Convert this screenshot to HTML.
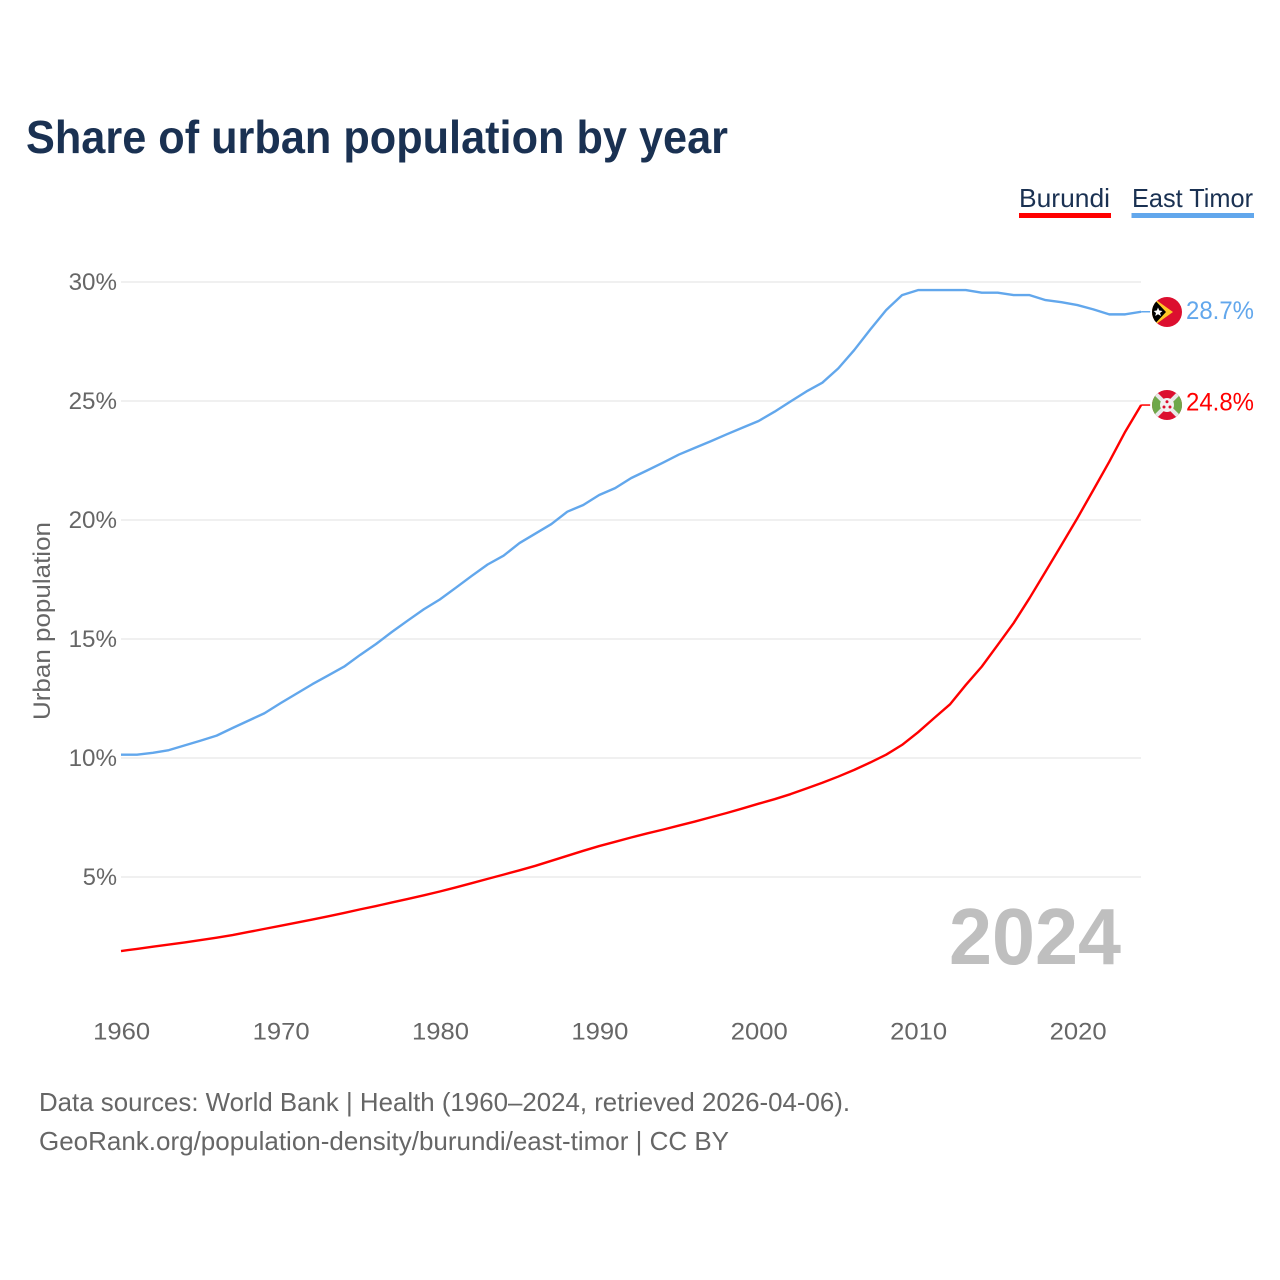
<!DOCTYPE html>
<html lang="en">
<head>
<meta charset="utf-8">
<title>Share of urban population by year</title>
<style>
  html, body { margin: 0; padding: 0; background: #fff; }
  svg { display: block; font-family: "Liberation Sans", sans-serif; }
</style>
</head>
<body>
<svg id="chart" width="1280" height="1280" viewBox="0 0 1280 1280" xmlns="http://www.w3.org/2000/svg">
  <rect width="1280" height="1280" fill="#ffffff"/>
  <text x="26" y="153" font-size="46" font-weight="700" fill="#1a3152" textLength="702" lengthAdjust="spacingAndGlyphs">Share of urban population by year</text>

  <g>
    <g>
      <text x="1019" y="207" font-size="26" fill="#1a3152" textLength="91" lengthAdjust="spacingAndGlyphs">Burundi</text>
      <rect x="1019" y="213" width="92" height="5" fill="#ff0000"/>
    </g>
    <g>
      <text x="1132" y="207" font-size="26" fill="#1a3152" textLength="121" lengthAdjust="spacingAndGlyphs">East Timor</text>
      <rect x="1131.500" y="213" width="122.500" height="5" fill="#62a7ec"/>
    </g>
  </g>

  <g id="grid"></g>
  <g id="y-ticks"></g>
  <g id="x-ticks"></g>
  <text transform="translate(50 720) rotate(-90)" font-size="24" fill="#666666" textLength="198" lengthAdjust="spacingAndGlyphs">Urban population</text>

  <text x="949" y="964" font-size="80" font-weight="700" fill="#bfbfbf" textLength="172" lengthAdjust="spacingAndGlyphs">2024</text>

  <g id="series"></g>

  <defs>
    <clipPath id="clip-tl"><circle cx="1167" cy="312" r="15"/></clipPath>
    <clipPath id="clip-bi"><circle cx="1167" cy="405" r="15"/></clipPath>
  </defs>

  <g id="flag-east-timor" clip-path="url(#clip-tl)">
    <rect x="1152" y="297" width="30" height="30" fill="#dc0f2f"/>
    <polygon points="1152,297 1173,312 1152,327" fill="#ffc726"/>
    <polygon points="1152,297 1166,312 1152,327" fill="#000000"/>
    <polygon points="1158,307.500 1159.300,310.500 1162.500,311 1160,313 1161,316 1158,314.300 1155.200,316 1156,313 1153.700,311 1156.800,310.500" fill="#ffffff"/>
  </g>

  <g id="flag-burundi" clip-path="url(#clip-bi)">
    <rect x="1152" y="390" width="30" height="30" fill="#dc0f2f"/>
    <polygon points="1152,390 1167,405 1152,420" fill="#6fa84a"/>
    <polygon points="1182,390 1167,405 1182,420" fill="#6fa84a"/>
    <line x1="1152" y1="390" x2="1182" y2="420" stroke="#e8e8e8" stroke-width="4"/>
    <line x1="1182" y1="390" x2="1152" y2="420" stroke="#e8e8e8" stroke-width="4"/>
    <circle cx="1167" cy="405" r="7" fill="#f2f2f2"/>
    <circle cx="1167" cy="401.800" r="1.500" fill="#dc0f2f"/>
    <circle cx="1164" cy="407" r="1.500" fill="#dc0f2f"/>
    <circle cx="1170" cy="407" r="1.500" fill="#dc0f2f"/>
  </g>

  <text id="value-east-timor" x="1186" y="319" font-size="25" fill="#62a7ec" textLength="68" lengthAdjust="spacingAndGlyphs"></text>
  <text id="value-burundi" x="1186" y="410.500" font-size="25" fill="#ff0000" textLength="68" lengthAdjust="spacingAndGlyphs"></text>

  <text x="39" y="1111" font-size="26" fill="#666666" textLength="811" lengthAdjust="spacingAndGlyphs">Data sources: World Bank | Health (1960–2024, retrieved 2026-04-06).</text>
  <text x="39" y="1150" font-size="26" fill="#666666" textLength="690" lengthAdjust="spacingAndGlyphs">GeoRank.org/population-density/burundi/east-timor | CC BY</text>
</svg>
<script>
const startYear = 1960;
const xTickYears = [1960, 1970, 1980, 1990, 2000, 2010, 2020];
const yTickValues = [5, 10, 15, 20, 25, 30];
const burundiValues = [
  1.89, 1.98, 2.07, 2.16, 2.25, 2.35, 2.45, 2.56, 2.69, 2.82,
  2.95, 3.08, 3.21, 3.35, 3.49, 3.64, 3.78, 3.93, 4.08, 4.23,
  4.39, 4.56, 4.74, 4.92, 5.10, 5.28, 5.47, 5.68, 5.89, 6.10,
  6.30, 6.48, 6.66, 6.83, 6.99, 7.16, 7.33, 7.51, 7.69, 7.88,
  8.08, 8.27, 8.48, 8.72, 8.96, 9.22, 9.50, 9.81, 10.14, 10.55,
  11.08, 11.67, 12.25, 13.07, 13.84, 14.75, 15.67, 16.72, 17.83, 18.95,
  20.08, 21.26, 22.45, 23.71, 24.83
];
const eastTimorValues = [
  10.14, 10.14, 10.22, 10.33, 10.53, 10.73, 10.94, 11.26, 11.57, 11.88,
  12.30, 12.70, 13.10, 13.47, 13.84, 14.33, 14.79, 15.30, 15.78, 16.25,
  16.66, 17.15, 17.65, 18.13, 18.50, 19.03, 19.43, 19.83, 20.35, 20.63,
  21.05, 21.34, 21.76, 22.08, 22.41, 22.75, 23.03, 23.31, 23.60, 23.88,
  24.16, 24.55, 24.98, 25.40, 25.77, 26.37, 27.14, 28.00, 28.82, 29.45,
  29.66, 29.66, 29.66, 29.66, 29.55, 29.55, 29.45, 29.45, 29.24, 29.15,
  29.03, 28.85, 28.64, 28.64, 28.75
];
const burundiEndLabel = '24.8%';
const eastTimorEndLabel = '28.7%';

const SVG_NS = 'http://www.w3.org/2000/svg';
const xScale = function (year) { return 121 + (year - 1960) * 15.94; };
const yScale = function (value) { return 996 - value * 23.8; };
const plotRight = 1141;

const gridLayer = document.getElementById('grid');
const yTickLayer = document.getElementById('y-ticks');
const xTickLayer = document.getElementById('x-ticks');
const seriesLayer = document.getElementById('series');

yTickValues.forEach(function (tick) {
  const line = document.createElementNS(SVG_NS, 'line');
  
  
  line.setAttribute('x1', 121);
  line.setAttribute('x2', plotRight);
  line.setAttribute('y1', yScale(tick));
  line.setAttribute('y2', yScale(tick));
  line.setAttribute('stroke', '#ebebeb');
  line.setAttribute('stroke-width', '1.5');
  gridLayer.appendChild(line);

  const label = document.createElementNS(SVG_NS, 'text');
  const labelText = tick + '%';
  
  
  label.setAttribute('x', 117);
  label.setAttribute('y', yScale(tick) + 8);
  label.setAttribute('text-anchor', 'end');
  label.setAttribute('font-size', '24');
  label.setAttribute('fill', '#666666');
  label.setAttribute('textLength', (labelText.length - 1) * 14.2 + 20);
  label.setAttribute('lengthAdjust', 'spacingAndGlyphs');
  label.textContent = labelText;
  yTickLayer.appendChild(label);
});

xTickYears.forEach(function (year) {
  const label = document.createElementNS(SVG_NS, 'text');
  
  
  label.setAttribute('x', xScale(year) + 0.7);
  label.setAttribute('y', 1039.5);
  label.setAttribute('text-anchor', 'middle');
  label.setAttribute('font-size', '24');
  label.setAttribute('fill', '#666666');
  label.setAttribute('textLength', '57');
  label.setAttribute('lengthAdjust', 'spacingAndGlyphs');
  label.textContent = String(year);
  xTickLayer.appendChild(label);
});

function drawSeries(values, color, width, seriesName) {
  const d = values.map(function (value, i) {
    return (i === 0 ? 'M' : 'L') + xScale(startYear + i).toFixed(2) + ' ' + yScale(value).toFixed(2);
  }).join(' ');
  const path = document.createElementNS(SVG_NS, 'path');
  
  
  path.setAttribute('d', d);
  path.setAttribute('fill', 'none');
  path.setAttribute('stroke', color);
  path.setAttribute('stroke-width', width);
  path.setAttribute('stroke-linejoin', 'round');
  seriesLayer.appendChild(path);

  const lastY = yScale(values[values.length - 1]);
  const lastX = xScale(startYear + values.length - 1);
  const connector = document.createElementNS(SVG_NS, 'line');
  
  
  connector.setAttribute('x1', lastX);
  connector.setAttribute('x2', lastX + 9);
  connector.setAttribute('y1', lastY);
  connector.setAttribute('y2', lastY);
  connector.setAttribute('stroke', color);
  connector.setAttribute('stroke-width', '1.5');
  seriesLayer.appendChild(connector);
}

drawSeries(eastTimorValues, '#62a7ec', 2.4, 'east-timor');
drawSeries(burundiValues, '#ff0000', 2.4, 'burundi');

document.getElementById('value-east-timor').textContent = eastTimorEndLabel;
document.getElementById('value-burundi').textContent = burundiEndLabel;
</script>
</body>
</html>
